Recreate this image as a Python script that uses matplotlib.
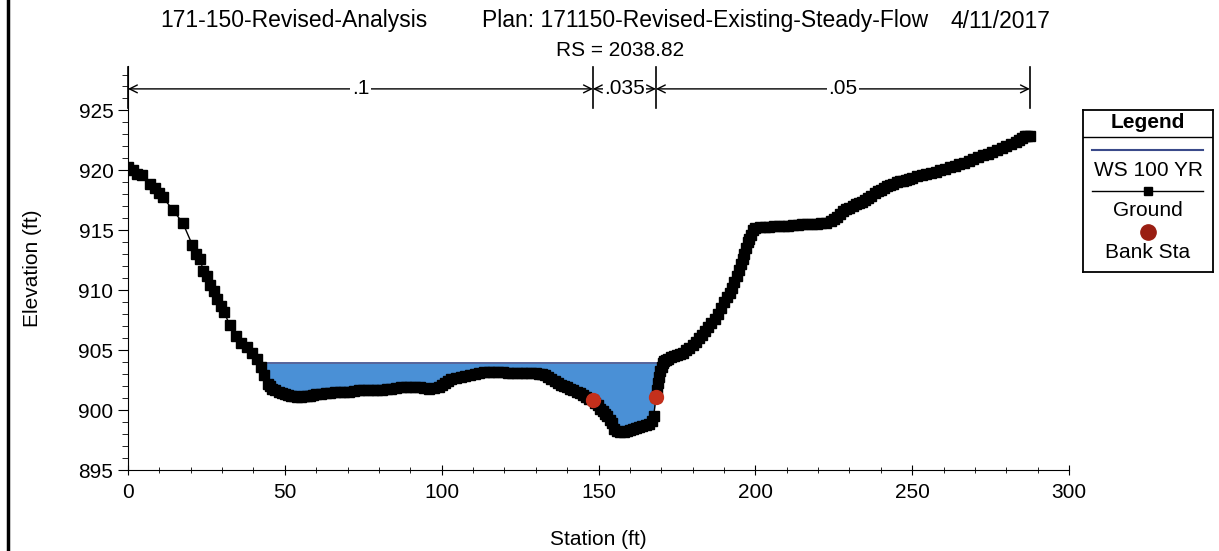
import matplotlib
matplotlib.use("Agg")
import matplotlib.pyplot as plt
import numpy as np
from matplotlib.lines import Line2D
from matplotlib.ticker import MultipleLocator

plt.rcParams['font.family'] = ['Liberation Sans', 'DejaVu Sans']

# Data (station / ground elevation)
station = [0, 1.5, 3, 4.5, 7, 8.5, 10, 11, 14.3, 17.5, 20.5, 21.8, 23, 24, 25.2, 26.3,
           27.3, 28.5, 29.5, 30.5, 32.5, 34.5, 36, 37.9, 39.5, 41, 42.5, 43.5, 44.5, 45.3,
           46, 47, 48, 49, 50, 51, 52, 53, 54, 55, 56, 57, 58, 59, 60,
           61.5, 63, 64.5, 66, 67.5, 69, 70.5, 72, 73.5, 75, 76.5, 78, 79.5, 81, 82.5, 84,
           85.5, 87, 88.5, 90, 91.5, 93, 94.5, 96, 97.5, 99,
           100, 101, 102, 103, 104.5, 106, 107.5, 109, 110.5, 112, 113.5, 115, 116.5, 118,
           119.5, 121, 122.5, 124, 125.5, 127, 128.5, 130,
           131, 132, 133, 134, 135, 136, 137, 138, 139, 140, 141, 142, 143, 144, 145, 146,
           147, 148.2,
           149, 149.8, 150.5, 151.3, 152, 152.8, 153.5, 154.3, 155, 156, 157, 158, 159, 160,
           161, 162, 163, 164, 165, 166, 167, 167.6, 168.3,
           168.7, 169, 169.4, 169.7, 170.1, 170.5, 171, 171.5, 172.2, 173, 174, 175, 176,
           177, 178, 179, 180, 181, 182, 183, 184, 185, 186, 187, 188, 189, 190, 191, 191.8,
           192.5, 193.3, 194, 194.8, 195.5, 196, 196.5, 197, 197.5, 198, 198.5, 199.2, 200,
           201.5, 203, 204.5, 206, 207.5, 209, 210.5, 212, 213.5, 215, 216.5, 218, 219.5,
           221, 222.5, 224,
           225, 226, 227, 228, 229, 230, 231, 232, 233, 234, 235, 236, 237, 238, 239, 240,
           241, 242, 243, 244, 245, 246, 247, 248, 249, 250,
           251.5, 253, 254.5, 256, 257.5, 259, 260.5, 262, 263.5, 265, 266.5, 268, 269.5,
           271, 272.5, 274, 275.5, 277, 278.5, 280, 281.5, 283, 284, 285, 286, 286.5, 287.5]
ground = [920.3, 920.0, 919.7, 919.6, 918.9, 918.5, 918.1, 917.8, 916.7, 915.6, 913.8, 913.0,
          912.6, 911.6, 911.2, 910.4, 909.9, 909.3, 908.7, 908.2, 907.1, 906.2, 905.6, 905.3,
          904.8, 904.3, 903.6, 902.9, 902.2, 902.0,
          901.8, 901.65, 901.5, 901.4, 901.3, 901.25, 901.2, 901.15, 901.1, 901.1, 901.2,
          901.2, 901.2, 901.25, 901.3,
          901.35, 901.4, 901.45, 901.5, 901.5, 901.5, 901.55, 901.6, 901.65, 901.7, 901.7,
          901.7, 901.7, 901.7, 901.75, 901.8, 901.85, 901.9, 901.9, 901.9, 901.9, 901.9,
          901.85, 901.8, 901.85, 901.9,
          902.1, 902.3, 902.45, 902.6, 902.7, 902.8, 902.85, 902.9, 903.0, 903.1, 903.15,
          903.2, 903.2, 903.2, 903.15, 903.1, 903.1, 903.1, 903.1, 903.1, 903.1, 903.1,
          903.05, 903.0, 902.9, 902.8, 902.6, 902.4, 902.25, 902.1, 902.0, 901.9, 901.8,
          901.7, 901.55, 901.4, 901.25, 901.1, 900.95, 900.8,
          900.6, 900.4, 900.1, 899.9, 899.7, 899.5, 899.2, 898.9, 898.4, 898.25, 898.2,
          898.2, 898.25, 898.3, 898.4, 898.5, 898.55, 898.65, 898.75, 898.85, 899.05,
          899.5, 901.1,
          901.7, 902.3, 902.8, 903.3, 903.6, 903.9, 904.1, 904.2, 904.3, 904.4,
          904.5, 904.6, 904.7, 904.8, 905.0, 905.2, 905.45, 905.7, 906.0, 906.3, 906.6,
          906.9, 907.25, 907.6, 908.0, 908.5, 909.0, 909.4,
          909.8, 910.2, 910.7, 911.2, 911.7, 912.2, 912.6, 913.0, 913.5, 914.0, 914.3,
          914.6, 915.0, 915.2,
          915.25, 915.3, 915.3, 915.35, 915.35, 915.4, 915.4, 915.45, 915.45, 915.5, 915.5,
          915.55, 915.55, 915.6, 915.65, 915.8,
          915.95, 916.1, 916.35, 916.6, 916.75, 916.9, 917.05, 917.2, 917.3, 917.4, 917.55,
          917.7, 917.9, 918.1, 918.25, 918.4, 918.55, 918.7, 918.8, 918.9, 919.0, 919.1,
          919.15, 919.2, 919.3, 919.4,
          919.5, 919.6, 919.7, 919.8, 919.9, 920.0, 920.15, 920.3, 920.4, 920.5, 920.65,
          920.8, 920.95, 921.1, 921.25, 921.4, 921.55, 921.7, 921.85, 922.0, 922.2,
          922.4, 922.55, 922.7, 922.85, 922.9, 922.9]
bank_sta = [148.2, 168.3]
bank_elev = [900.8, 901.1]
ws_elev = 903.9
n_bounds = [0, 148.2, 168.3, 287.5]
n_values = ['.1', '.035', '.05']

st = np.array(station)
gr = np.array(ground)

fig = plt.figure(figsize=(12.19, 5.51), dpi=100)
ax = fig.add_axes([0.105, 0.147, 0.772, 0.733])

# water surface fill and line
ax.fill_between(st, gr, ws_elev, where=gr < ws_elev, interpolate=True,
                color='#4a90d6', linewidth=0, zorder=1)
wet = np.where(gr < ws_elev)[0]
i0, i1 = wet[0], wet[-1]
x_left = np.interp(ws_elev, [gr[i0], gr[i0 - 1]], [st[i0], st[i0 - 1]])
x_right = np.interp(ws_elev, [gr[i1], gr[i1 + 1]], [st[i1], st[i1 + 1]])
ax.plot([x_left, x_right], [ws_elev, ws_elev], color='#3a4a8a', lw=1.2, zorder=2)

# ground
ax.plot(st, gr, color='black', lw=1, marker='s', markersize=7, zorder=3)
# bank stations
ax.plot(bank_sta, bank_elev, 'o', color='#c4301c', markersize=10, zorder=4)

ax.set_xlim(0, 300)
ax.set_ylim(895, 928.7)
ax.spines['top'].set_visible(False)
ax.spines['right'].set_visible(False)
ax.xaxis.set_major_locator(MultipleLocator(50))
ax.xaxis.set_minor_locator(MultipleLocator(10))
ax.yaxis.set_minor_locator(MultipleLocator(1))
ax.set_yticks([895, 900, 905, 910, 915, 920, 925])
ax.tick_params(axis='both', which='major', labelsize=15, length=7)
ax.tick_params(axis='both', which='minor', length=4)
ax.tick_params(axis='x', which='both', direction='inout')
ax.tick_params(axis='x', which='major', pad=6)
ax.set_xlabel('Station (ft)', fontsize=15, labelpad=20)
ax.set_ylabel('Elevation (ft)', fontsize=15, labelpad=26)

# Manning's n boundaries
y_arrow = 926.8
for b in n_bounds:
    ax.plot([b, b], [925.2, 928.6], color='black', lw=1.2, clip_on=False, zorder=5)
for k, n in enumerate(n_values):
    a, b = n_bounds[k], n_bounds[k + 1]
    mid = (a + b) / 2
    for end in (a, b):
        ax.annotate('', xy=(end, y_arrow), xytext=(mid, y_arrow),
                    arrowprops=dict(arrowstyle='->', color='black', lw=1,
                                    shrinkA=0, shrinkB=0, mutation_scale=14),
                    annotation_clip=False)
    ax.text(mid, y_arrow, n, ha='center', va='center', fontsize=15,
            bbox=dict(facecolor='white', edgecolor='none', pad=1), zorder=6)

# titles
fig.text(160 / 1219, 1 - 21 / 551, '171-150-Revised-Analysis', fontsize=16.5, va='center')
fig.text(482 / 1219, 1 - 21 / 551, 'Plan: 171150-Revised-Existing-Steady-Flow', fontsize=16.5, va='center')
fig.text(951 / 1219, 1 - 21 / 551, '4/11/2017', fontsize=16.5, va='center')
fig.text(620 / 1219, 1 - 50 / 551, 'RS = 2038.82', fontsize=15, ha='center', va='center')

# left border
fig.add_artist(Line2D([8 / 1219, 8 / 1219], [0, 1], color='black', lw=2.5))

# legend box
lg = fig.add_axes([1083 / 1219, 1 - 272 / 551, 130 / 1219, 162 / 551])
lg.set_xlim(1083, 1213)
lg.set_ylim(272, 110)
lg.set_xticks([])
lg.set_yticks([])
for s in lg.spines.values():
    s.set_linewidth(1.3)
lg.text(1148, 123, 'Legend', ha='center', va='center', fontsize=15, fontweight='bold')
lg.axhline(137, color='black', lw=1)
lg.plot([1092, 1203], [150, 150], color='#3a4a8a', lw=1.5)
lg.text(1148, 170, 'WS 100 YR', ha='center', va='center', fontsize=15)
lg.plot([1092, 1203], [191, 191], color='black', lw=1)
lg.plot([1148], [191], 's', color='black', markersize=6)
lg.text(1148, 210, 'Ground', ha='center', va='center', fontsize=15)
lg.plot([1148], [232], 'o', color='#9a1e12', markersize=11)
lg.text(1148, 252, 'Bank Sta', ha='center', va='center', fontsize=15)

fig.savefig('out.png', dpi=100)
